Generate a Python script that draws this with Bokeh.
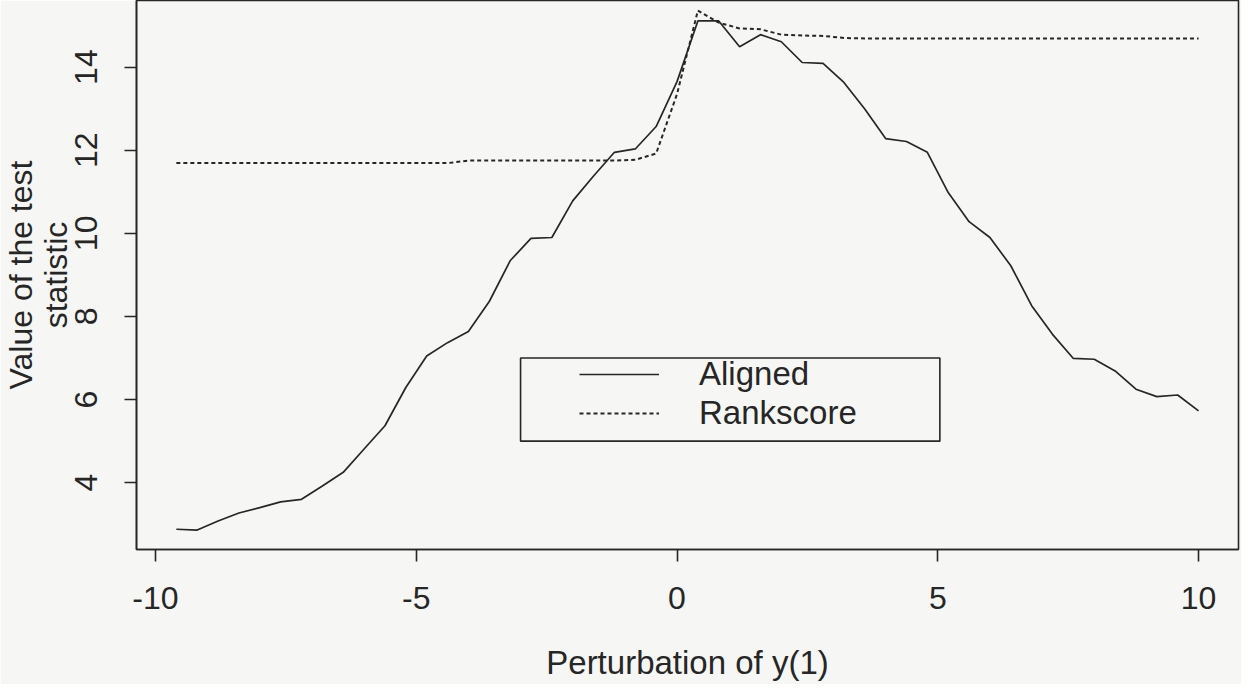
from bokeh.plotting import figure
from bokeh.models import Range1d, FixedTicker, Legend, LegendItem, BoxAnnotation
from bokeh.embed import file_html
from bokeh.resources import INLINE

# ---- data ----
perturbation = [-9.6, -9.2, -8.8, -8.4, -8.0, -7.6, -7.2, -6.8, -6.4, -6.0,
                -5.6, -5.2, -4.8, -4.4, -4.0, -3.6, -3.2, -2.8, -2.4, -2.0,
                -1.6, -1.2, -0.8, -0.4, 0.0, 0.4, 0.8, 1.2, 1.6, 2.0,
                2.4, 2.8, 3.2, 3.6, 4.0, 4.4, 4.8, 5.2, 5.6, 6.0,
                6.4, 6.8, 7.2, 7.6, 8.0, 8.4, 8.8, 9.2, 9.6, 10.0]

aligned = [2.88, 2.86, 3.08, 3.27, 3.40, 3.54, 3.60, 3.92, 4.25, 4.81,
           5.37, 6.29, 7.05, 7.37, 7.64, 8.36, 9.34, 9.88, 9.90, 10.78,
           11.38, 11.95, 12.03, 12.57, 13.65, 15.11, 15.11, 14.49, 14.78, 14.61,
           14.11, 14.09, 13.63, 12.99, 12.28, 12.21, 11.95, 10.98, 10.28, 9.90,
           9.22, 8.26, 7.57, 6.99, 6.97, 6.69, 6.25, 6.07, 6.11, 5.73]

rankscore = [11.69, 11.69, 11.69, 11.69, 11.69, 11.69, 11.69, 11.69, 11.69, 11.69,
             11.69, 11.69, 11.69, 11.69, 11.75, 11.75, 11.75, 11.75, 11.75, 11.75,
             11.75, 11.75, 11.77, 11.92, 13.35, 15.36, 15.07, 14.93, 14.91, 14.78,
             14.76, 14.75, 14.70, 14.69, 14.69, 14.69, 14.69, 14.69, 14.69, 14.69,
             14.69, 14.69, 14.69, 14.69, 14.69, 14.69, 14.69, 14.69, 14.69, 14.69]

x_ticks = [-10, -5, 0, 5, 10]
x_tick_labels = {-10: "-10", -5: "-5", 0: "0", 5: "5", 10: "10"}
y_ticks = [4, 6, 8, 10, 12, 14]
series_names = ["Aligned", "Rankscore"]
x_title = "Perturbation of y(1)"
y_title = "Value of the test\nstatistic"
legend_box = dict(left=-3.0, right=5.04, bottom=5.0, top=7.0)

# ---- style ----
INK = "#262626"
BG = "#f6f7f4"
FONT = "Liberation Sans"
FS_TICK = "32px"
FS_LABEL = "33px"

p = figure(width=1241, height=684, output_backend="svg", toolbar_location=None,
           x_range=Range1d(-10.364, 10.766), y_range=Range1d(2.393, 15.602),
           min_border_left=135, min_border_right=3, min_border_top=0,
           min_border_bottom=135)

p.background_fill_color = BG
p.border_fill_color = BG
p.xgrid.visible = False
p.ygrid.visible = False
p.outline_line_color = INK
p.outline_line_width = 1.6
p.outline_line_alpha = 1.0

r1 = p.line(perturbation, aligned, line_color=INK, line_width=1.7)
r2 = p.line(perturbation, rankscore, line_color=INK, line_width=2.0,
            line_dash="4 3")

for ax in (p.xaxis[0], p.yaxis[0]):
    ax.axis_line_color = INK
    ax.axis_line_width = 1.6
    ax.major_tick_line_color = INK
    ax.major_tick_line_width = 1.6
    ax.major_tick_out = 12
    ax.major_tick_in = 0
    ax.minor_tick_line_color = None
    ax.major_label_text_font = FONT
    ax.major_label_text_font_size = FS_TICK
    ax.major_label_text_color = INK
    ax.axis_label_text_font = FONT
    ax.axis_label_text_font_style = "normal"
    ax.axis_label_text_color = INK

p.xaxis.ticker = FixedTicker(ticks=x_ticks)
p.xaxis.major_label_overrides = x_tick_labels
p.yaxis.ticker = FixedTicker(ticks=y_ticks)
p.xaxis.axis_label = x_title
p.xaxis.axis_label_text_font_size = FS_LABEL
p.xaxis.major_label_standoff = 25
p.xaxis.axis_label_standoff = 32
p.yaxis.axis_label = y_title
p.yaxis.axis_label_text_font_size = "32px"
p.yaxis.axis_label_text_line_height = 0.95
p.yaxis.major_label_orientation = "vertical"
p.yaxis.major_label_standoff = 27
p.yaxis.axis_label_standoff = -1

box = BoxAnnotation(fill_alpha=0, line_color=INK, line_alpha=1.0,
                    line_width=1.6, **legend_box)
p.add_layout(box)

legend = Legend(items=[LegendItem(label=series_names[0], renderers=[r1]),
                       LegendItem(label=series_names[1], renderers=[r2])],
                location=(443, 117), padding=0, spacing=1,
                glyph_width=80, glyph_height=36, label_height=36,
                label_standoff=40, label_text_font=FONT,
                label_text_font_size=FS_LABEL, label_text_color=INK,
                border_line_alpha=0, background_fill_alpha=0)
p.add_layout(legend)

open("out.html", "w").write(file_html(p, INLINE))
